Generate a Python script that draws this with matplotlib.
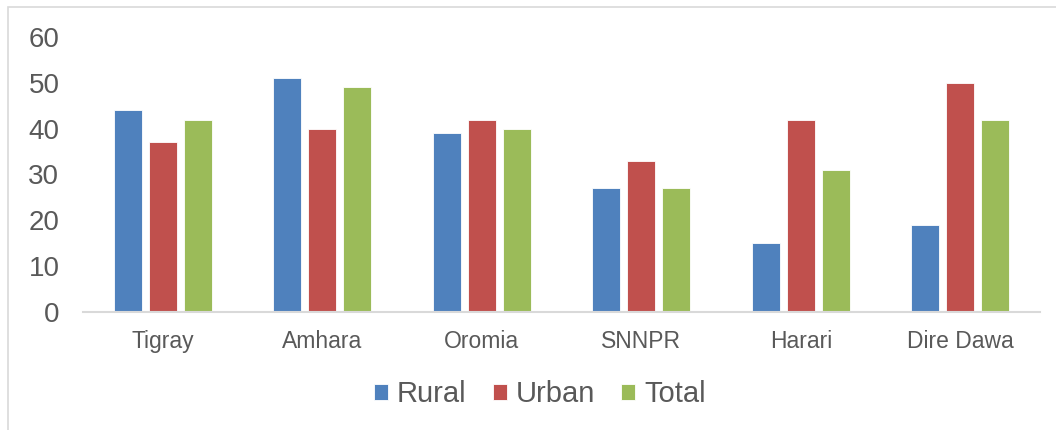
import matplotlib
matplotlib.use("Agg")
import matplotlib.pyplot as plt
import numpy as np
from matplotlib.patches import Rectangle

categories = ["Tigray", "Amhara", "Oromia", "SNNPR", "Harari", "Dire Dawa"]
rural = [44, 51, 39, 27, 15, 19]
urban = [37, 40, 42, 33, 42, 50]
total = [42, 49, 40, 27, 31, 42]
series_names = ["Rural", "Urban", "Total"]
colors = ["#4F81BD", "#C0504D", "#9BBB59"]

plt.rcParams['font.family'] = ['Liberation Sans', 'DejaVu Sans']

W, H = 1056, 430
fig = plt.figure(figsize=(W / 100, H / 100), dpi=100)

# outer chart frame (extends beyond right/bottom edges)
fig.patches.append(Rectangle((8 / W, -0.1), 1.2, 1 - 7 / H + 0.1, transform=fig.transFigure,
                             fill=False, edgecolor="#D9D9D9", linewidth=1.2))

ax = fig.add_axes([83 / W, 118 / H, (1040 - 83) / W, (312 - 37) / H])

x = np.arange(len(categories))
bw = 0.175
step = 0.22
for i, (vals, name, c) in enumerate(zip([rural, urban, total], series_names, colors)):
    ax.bar(x + (i - 1) * step, vals, width=bw, color=c, label=name,
           edgecolor="white", linewidth=0.6)

ax.set_xlim(-0.5, len(categories) - 0.5)
ax.set_ylim(0, 60)
ax.set_yticks(range(0, 61, 10))
ax.set_xticks(x)
ax.set_xticklabels(categories)
for s in ["top", "right", "left"]:
    ax.spines[s].set_visible(False)
ax.spines["bottom"].set_color("#D9D9D9")
ax.spines["bottom"].set_linewidth(1.5)
ax.tick_params(axis="y", length=0, pad=17, labelsize=20, labelcolor="#595959")
ax.tick_params(axis="x", length=0, pad=13, labelsize=16.5, labelcolor="#595959")

leg = fig.legend(loc="center", bbox_to_anchor=(540 / W, 1 - 394 / H), ncol=3, frameon=False,
                 fontsize=21, handlelength=0.48, handleheight=0.48, handletextpad=0.3,
                 columnspacing=0.9, borderpad=0)
for t in leg.get_texts():
    t.set_color("#595959")

fig.savefig("out.png", dpi=100)
